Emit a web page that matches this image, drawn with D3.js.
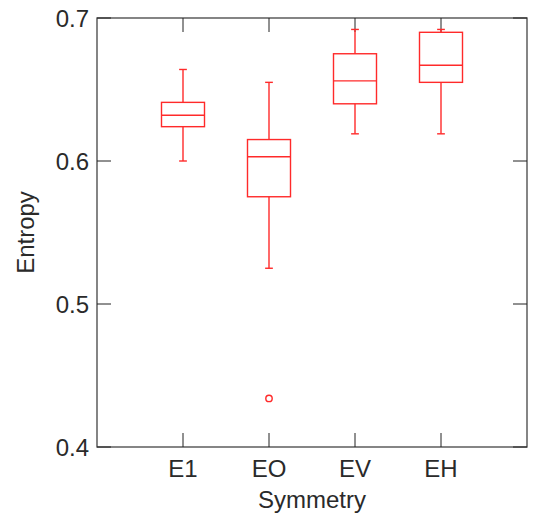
<!DOCTYPE html>
<html>
<head>
<meta charset="utf-8">
<script src="https://cdn.jsdelivr.net/npm/d3@7"></script>
<style>
  body { margin: 0; background: #fff; }
  svg text { font-family: Arial, "Liberation Sans", sans-serif; fill: #2a2a2a; }
  .box { fill: none; stroke: #ff2a2a; stroke-width: 1.4; }
</style>
</head>
<body>
<script>
// data
var categories = ['E1', 'EO', 'EV', 'EH'];
var whiskerLow  = [0.600, 0.525, 0.619, 0.619];
var q1          = [0.624, 0.575, 0.640, 0.655];
var median      = [0.632, 0.603, 0.656, 0.667];
var q3          = [0.641, 0.615, 0.675, 0.690];
var whiskerHigh = [0.664, 0.655, 0.692, 0.692];
var outliers    = [[], [0.434], [], []];
var yTicks = [0.4, 0.5, 0.6, 0.7];

var w = 550, h = 527;
var margin = {top: 18, right: 23, bottom: 80, left: 97};
var width = w - margin.left - margin.right;
var height = h - margin.top - margin.bottom;

var x = d3.scaleLinear().domain([0, 5]).range([0, width]);
var y = d3.scaleLinear().domain([0.4, 0.7]).range([height, 0]);

var svg = d3.select('body').append('svg')
  .attr('width', w)
  .attr('height', h);

var chart = svg.append('g')
  .attr('transform', 'translate(' + margin.left + ',' + margin.top + ')');

// frame
chart.append('rect')
  .attr('width', width).attr('height', height)
  .attr('fill', 'none').attr('stroke', '#444').attr('stroke-width', 1.3);

var tickLen = 14;
var xPos = categories.map(function(d, i){ return i + 1; });

// ticks pointing in, on all four sides
chart.selectAll('.xtb').data(xPos).enter().append('line')
  .attr('x1', function(d){ return x(d); }).attr('x2', function(d){ return x(d); })
  .attr('y1', height).attr('y2', height - tickLen)
  .attr('stroke', '#222');
chart.selectAll('.xtt').data(xPos).enter().append('line')
  .attr('x1', function(d){ return x(d); }).attr('x2', function(d){ return x(d); })
  .attr('y1', 0).attr('y2', tickLen)
  .attr('stroke', '#222');
chart.selectAll('.ytl').data(yTicks).enter().append('line')
  .attr('x1', 0).attr('x2', tickLen)
  .attr('y1', function(d){ return y(d); }).attr('y2', function(d){ return y(d); })
  .attr('stroke', '#222');
chart.selectAll('.ytr').data(yTicks).enter().append('line')
  .attr('x1', width).attr('x2', width - tickLen)
  .attr('y1', function(d){ return y(d); }).attr('y2', function(d){ return y(d); })
  .attr('stroke', '#222');

// tick labels
chart.selectAll('.ylab').data(yTicks).enter().append('text')
  .attr('x', -8).attr('y', function(d){ return y(d); })
  .attr('dy', '0.36em')
  .attr('text-anchor', 'end')
  .style('font-size', '24px')
  .text(function(d){ return d3.format('.1f')(d); });

chart.selectAll('.xlab').data(categories).enter().append('text')
  .attr('x', function(d, i){ return x(i + 1); })
  .attr('y', height + 30)
  .attr('text-anchor', 'middle')
  .style('font-size', '24px')
  .text(function(d){ return d; });

// axis titles
chart.append('text')
  .attr('x', width / 2).attr('y', height + 61)
  .attr('text-anchor', 'middle')
  .style('font-size', '24px')
  .text('Symmetry');

chart.append('text')
  .attr('transform', 'translate(-63,' + (height / 2) + ') rotate(-90)')
  .attr('text-anchor', 'middle')
  .style('font-size', '24px')
  .text('Entropy');

// boxes
var boxW = 0.5, capW = 0.09;
var g = chart.selectAll('.bp').data(categories).enter().append('g').attr('class', 'box');

g.append('line') // upper whisker
  .attr('x1', function(d, i){ return x(i + 1); }).attr('x2', function(d, i){ return x(i + 1); })
  .attr('y1', function(d, i){ return y(q3[i]); }).attr('y2', function(d, i){ return y(whiskerHigh[i]); });
g.append('line') // lower whisker
  .attr('x1', function(d, i){ return x(i + 1); }).attr('x2', function(d, i){ return x(i + 1); })
  .attr('y1', function(d, i){ return y(q1[i]); }).attr('y2', function(d, i){ return y(whiskerLow[i]); });
g.append('line') // top cap
  .attr('x1', function(d, i){ return x(i + 1 - capW / 2); }).attr('x2', function(d, i){ return x(i + 1 + capW / 2); })
  .attr('y1', function(d, i){ return y(whiskerHigh[i]); }).attr('y2', function(d, i){ return y(whiskerHigh[i]); });
g.append('line') // bottom cap
  .attr('x1', function(d, i){ return x(i + 1 - capW / 2); }).attr('x2', function(d, i){ return x(i + 1 + capW / 2); })
  .attr('y1', function(d, i){ return y(whiskerLow[i]); }).attr('y2', function(d, i){ return y(whiskerLow[i]); });
g.append('rect')
  .attr('x', function(d, i){ return x(i + 1 - boxW / 2); })
  .attr('width', x(boxW) - x(0))
  .attr('y', function(d, i){ return y(q3[i]); })
  .attr('height', function(d, i){ return y(q1[i]) - y(q3[i]); })
  .attr('fill', 'none');
g.append('line') // median
  .attr('x1', function(d, i){ return x(i + 1 - boxW / 2); }).attr('x2', function(d, i){ return x(i + 1 + boxW / 2); })
  .attr('y1', function(d, i){ return y(median[i]); }).attr('y2', function(d, i){ return y(median[i]); });

// outliers
categories.forEach(function(c, i){
  chart.selectAll('.out' + i).data(outliers[i]).enter().append('circle')
    .attr('class', 'box')
    .attr('cx', x(i + 1))
    .attr('cy', function(d){ return y(d); })
    .attr('r', 3.2);
});
</script>
</body>
</html>
